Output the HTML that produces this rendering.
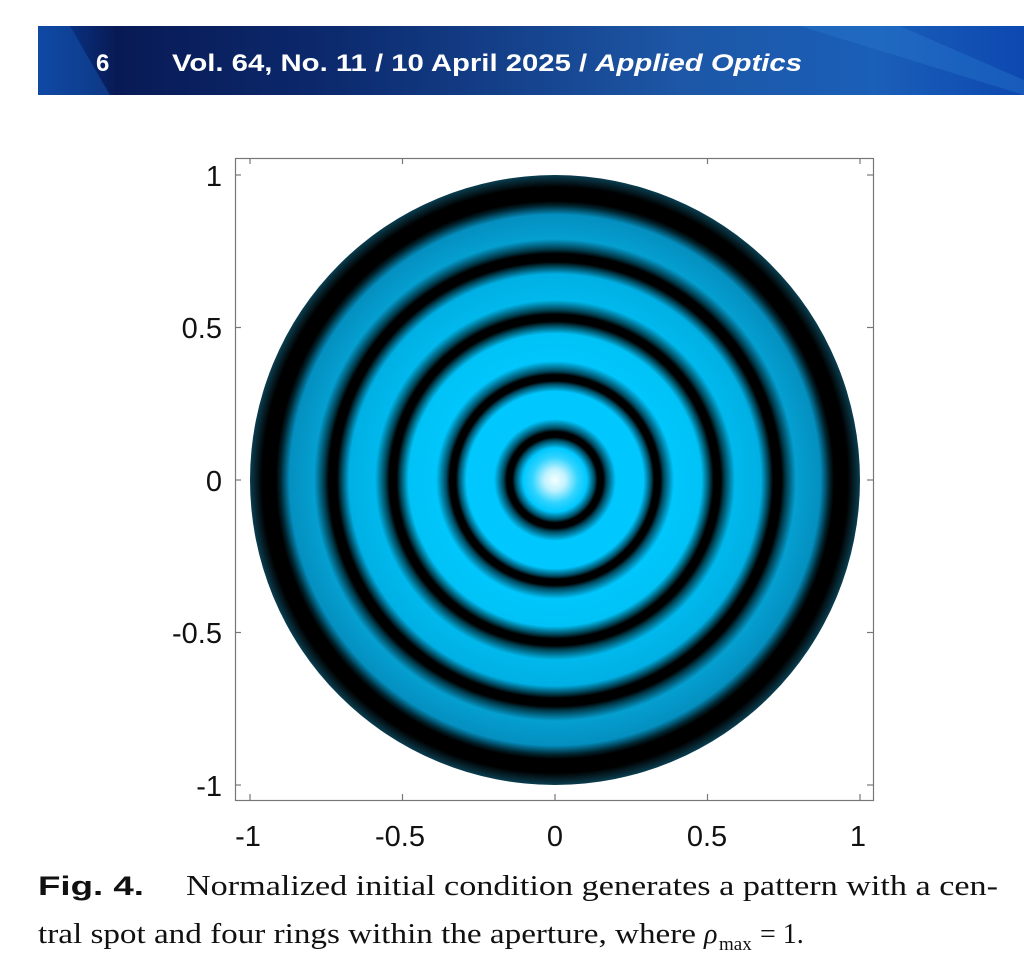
<!DOCTYPE html>
<html><head><meta charset="utf-8"><style>html,body{margin:0;padding:0;background:#fff}svg{display:block}</style></head>
<body>
<svg width="1024" height="969" viewBox="0 0 1024 969" xmlns="http://www.w3.org/2000/svg">
<defs>
<linearGradient id="bn" x1="0" y1="0" x2="1" y2="0">
<stop offset="0" stop-color="#0a3f9a"/><stop offset="0.08" stop-color="#081a55"/><stop offset="0.3" stop-color="#0c2a6e"/><stop offset="0.65" stop-color="#1d57a6"/><stop offset="0.85" stop-color="#1a5fb8"/><stop offset="1" stop-color="#0d48b0"/>
</linearGradient>
<radialGradient id="rg" cx="555" cy="480" r="305" gradientUnits="userSpaceOnUse">
<stop offset="0" stop-color="#f4ffff"/>
<stop offset="0.035" stop-color="#c0f2ff"/>
<stop offset="0.075" stop-color="#30d4ff"/>
<stop offset="0.105" stop-color="#00c8ff"/>
<stop offset="0.13" stop-color="#004a60"/>
<stop offset="0.14" stop-color="#000"/>
<stop offset="0.158" stop-color="#000"/>
<stop offset="0.17" stop-color="#004a60"/>
<stop offset="0.2" stop-color="#00c8ff"/>
<stop offset="0.29" stop-color="#00c8ff"/>
<stop offset="0.315" stop-color="#004a60"/>
<stop offset="0.325" stop-color="#000"/>
<stop offset="0.345" stop-color="#000"/>
<stop offset="0.357" stop-color="#004a60"/>
<stop offset="0.39" stop-color="#00c6fc"/>
<stop offset="0.48" stop-color="#00c2f6"/>
<stop offset="0.508" stop-color="#004050"/>
<stop offset="0.52" stop-color="#000"/>
<stop offset="0.543" stop-color="#000"/>
<stop offset="0.556" stop-color="#004050"/>
<stop offset="0.59" stop-color="#00b8ec"/>
<stop offset="0.675" stop-color="#00b0e4"/>
<stop offset="0.703" stop-color="#003848"/>
<stop offset="0.715" stop-color="#000"/>
<stop offset="0.742" stop-color="#000"/>
<stop offset="0.756" stop-color="#003848"/>
<stop offset="0.79" stop-color="#049fd0"/>
<stop offset="0.87" stop-color="#0490c0"/>
<stop offset="0.9" stop-color="#002530"/>
<stop offset="0.915" stop-color="#000"/>
<stop offset="0.96" stop-color="#000"/>
<stop offset="1" stop-color="#0a3e50"/>
</radialGradient>
</defs>
<rect x="38" y="26" width="986" height="69" fill="url(#bn)"/>
<polygon points="38,26 70,26 110,95 38,95" fill="#1354b0" opacity="0.5"/>
<polygon points="800,26 900,26 1024,80 1024,95" fill="#2a7fd0" opacity="0.35"/>
<text x="96" y="71" font-family="Liberation Sans, sans-serif" font-weight="bold" font-size="24" fill="#fff">6</text>
<text x="172" y="71" font-family="Liberation Sans, sans-serif" font-weight="bold" font-size="24" fill="#fff" textLength="630" lengthAdjust="spacingAndGlyphs">Vol. 64, No. 11 / 10 April 2025 / <tspan font-style="italic">Applied Optics</tspan></text>

<rect x="235.5" y="158.5" width="638" height="642" fill="#fff" stroke="#777" stroke-width="1.2"/>
<circle cx="555" cy="480" r="305" fill="url(#rg)"/>
<g stroke="#777" stroke-width="1.2">
<line x1="250" y1="800" x2="250" y2="794"/><line x1="402.5" y1="800" x2="402.5" y2="794"/><line x1="555" y1="800" x2="555" y2="794"/><line x1="707.5" y1="800" x2="707.5" y2="794"/><line x1="860" y1="800" x2="860" y2="794"/>
<line x1="250" y1="158" x2="250" y2="164"/><line x1="402.5" y1="158" x2="402.5" y2="164"/><line x1="707.5" y1="158" x2="707.5" y2="164"/><line x1="860" y1="158" x2="860" y2="164"/>
<line x1="235" y1="175" x2="241" y2="175"/><line x1="235" y1="327.5" x2="241" y2="327.5"/><line x1="235" y1="480" x2="241" y2="480"/><line x1="235" y1="632.5" x2="241" y2="632.5"/><line x1="235" y1="785" x2="241" y2="785"/>
<line x1="873" y1="175" x2="867" y2="175"/><line x1="873" y1="327.5" x2="867" y2="327.5"/><line x1="873" y1="480" x2="867" y2="480"/><line x1="873" y1="632.5" x2="867" y2="632.5"/><line x1="873" y1="785" x2="867" y2="785"/>
</g>
<g font-family="Liberation Sans, sans-serif" font-size="29" fill="#111">
<g text-anchor="middle">
<text x="248" y="846">-1</text><text x="400" y="846">-0.5</text><text x="555" y="846">0</text><text x="707" y="846">0.5</text><text x="858" y="846">1</text>
</g>
<g text-anchor="end">
<text x="222" y="186">1</text><text x="222" y="338">0.5</text><text x="222" y="491">0</text><text x="222" y="643">-0.5</text><text x="222" y="796">-1</text>
</g>
</g>
<text x="38" y="895" font-family="Liberation Sans, sans-serif" font-weight="bold" font-size="27" fill="#111" textLength="106" lengthAdjust="spacingAndGlyphs">Fig. 4.</text>
<text x="186" y="895" font-family="Liberation Serif, serif" font-size="28" fill="#111" textLength="812" lengthAdjust="spacingAndGlyphs">Normalized initial condition generates a pattern with a cen-</text>
<text x="38" y="943" font-family="Liberation Serif, serif" font-size="28" fill="#111" textLength="658" lengthAdjust="spacingAndGlyphs">tral spot and four rings within the aperture, where</text>
<text x="704" y="943" font-family="Liberation Serif, serif" font-size="28" font-style="italic" fill="#111">ρ</text>
<text x="719" y="950" font-family="Liberation Serif, serif" font-size="19" fill="#111">max</text>
<text x="760" y="943" font-family="Liberation Serif, serif" font-size="28" fill="#111">= 1.</text>
</svg>
</body></html>
